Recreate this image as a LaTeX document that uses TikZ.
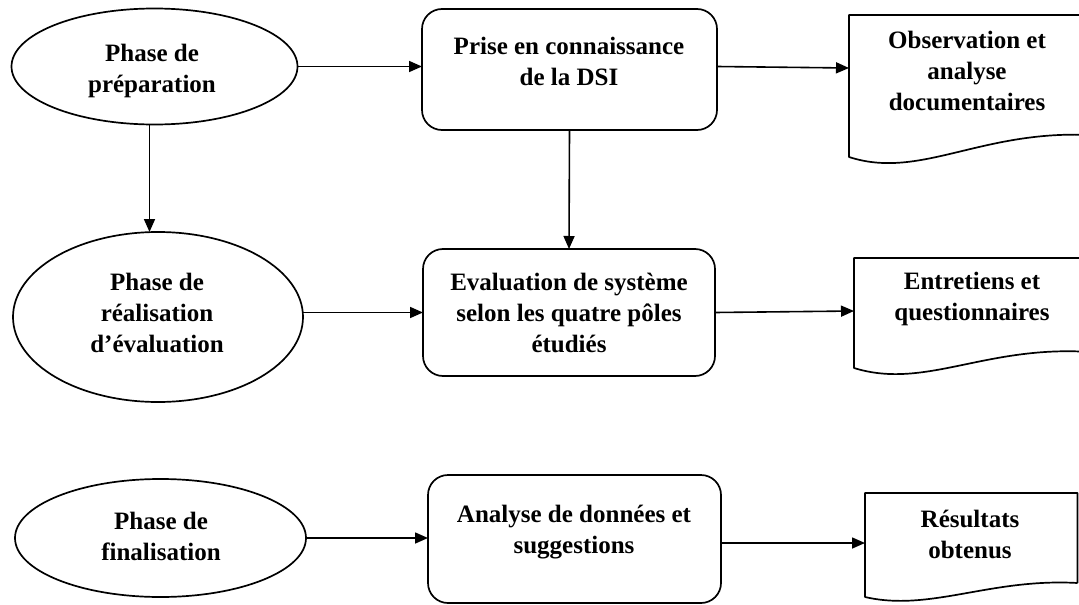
\documentclass[tikz,border=0pt]{standalone}
\usepackage{fontspec}
\setmainfont{Liberation Serif}
\usetikzlibrary{arrows.meta,shapes.geometric}

\begin{document}
\begin{tikzpicture}[x=1pt,y=-1pt,
  every node/.style={inner sep=0pt,outer sep=0pt},
  phase/.style={draw,ellipse,line width=1.7pt},
  stepbox/.style={draw,rounded corners=20pt,line width=1.7pt},
  lbl/.style={font=\bfseries\fontsize{25}{31}\selectfont,align=center,anchor=base},
  arr/.style={line width=1.6pt,-{Triangle[length=13pt,width=11pt]}},
  doc/.style={line width=1.7pt,line join=round}]

\useasboundingbox (0,0) rectangle (1079,605);
\clip (0,0) rectangle (1079,605);

% phases (ellipses)
\node[phase,minimum width=286pt,minimum height=116pt] (e1) at (154.5,66.5) {};
\node[phase,minimum width=290pt,minimum height=170pt] (e2) at (158,317) {};
\node[phase,minimum width=291pt,minimum height=118pt] (e3) at (160.5,538) {};

% activities (rounded boxes)
\node[stepbox,minimum width=295pt,minimum height=121pt] (b1) at (569.5,69.5) {};
\node[stepbox,minimum width=292pt,minimum height=127pt] (b2) at (569,312.5) {};
\node[stepbox,minimum width=293pt,minimum height=128pt] (b3) at (574.5,539) {};

% outputs (document shapes)
\draw[doc] (1090,15) -- (849,15) -- (849,157)
  .. controls (920,180) and (980,130) .. (1090,135);
\draw[doc] (1090,258) -- (854,258) -- (854,368)
  .. controls (925,390) and (985,345) .. (1090,352);
\draw[doc] (1077.5,583) -- (1077.5,493) -- (865,493) -- (865,597)
  .. controls (930,612) and (990,578) .. (1077.5,583);
\coordinate (d1w) at (849,68);
\coordinate (d2w) at (854,311);
\coordinate (d3w) at (865,543);

% labels (placed by the baseline of their last line)
\node[lbl] (te1) at (152,92) {Phase de\\préparation};
\node[lbl] (te2) at (157,352) {Phase de\\réalisation\\d’évaluation};
\node[lbl] (te3) at (161,560) {Phase de\\finalisation};
\node[lbl] (tb1) at (569,85) {Prise en connaissance\\de la DSI};
\node[lbl] (tb2) at (569,352) {Evaluation de système\\selon les quatre pôles\\étudiés};
\node[lbl] (tb3) at (574,553) {Analyse de données et\\suggestions};
\node[lbl] (td1) at (967,110) {Observation et\\analyse\\documentaires};
\node[lbl] (td2) at (972,320) {Entretiens et\\questionnaires};
\node[lbl] (td3) at (970,558) {Résultats\\obtenus};

% connectors
\draw[arr] (e1.east) -- (e1.east -| b1.west);
\draw[arr] ([xshift=-5pt]e1.south) -- ([xshift=-5pt]e1.south |- e2.north);
\draw[arr] ([yshift=3pt]b1.east) -- (d1w);
\draw[arr] (b1.south) -- (b2.north);
\draw[arr] (e2.east |- b2.west) -- (b2.west);
\draw[arr] (b2.east) -- (d2w);
\draw[arr] (e3.east) -- (e3.east -| b3.west);
\draw[arr] ([yshift=-4pt]b3.east) -- (d3w);
\end{tikzpicture}
\end{document}
